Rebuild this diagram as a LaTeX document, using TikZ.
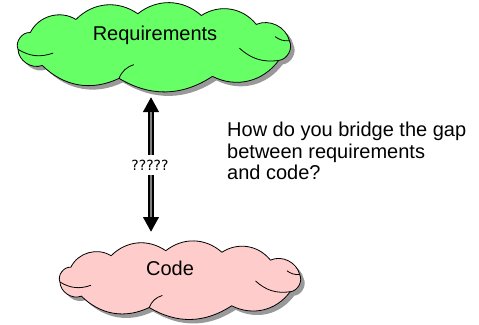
\documentclass[tikz,border=0pt]{standalone}
\usepackage{fontspec}
\setmainfont{Liberation Sans}
\newfontfamily\askfont{DejaVu Sans}
\usetikzlibrary{shadows,arrows.meta}

\definecolor{reqgreen}{RGB}{102,255,102}
\definecolor{codepink}{RGB}{255,204,204}

\tikzset{
  puff/.style={draw=black, line width=0.8pt,
    drop shadow={shadow xshift=4pt, shadow yshift=-4pt, fill=black!40, opacity=1}},
  puffedge/.style={draw=black, line width=0.8pt},
  % cloud outline on the unit ellipse, scaled by the scope's x and y
  pics/puffcloud/.style={code={
    \path[puff, fill=#1] (-25:1) to[bend right=55] (10:1) to[bend right=50] (42:1)
      to[bend right=42] (70:1) to[bend right=40] (97:1) to[bend right=40] (125:1)
      to[bend right=48] (155:1) to[bend right=60] (185:1) to[bend right=55] (215:1)
      to[bend right=35] (255:1) to[bend right=32] (295:1) to[bend right=40] (-25:1) -- cycle;
    \path[puffedge] (185:1) to[bend right=25] (-0.74,-0.2);
    \path[puffedge] (-25:1) to[bend left=25] (0.62,-0.05);
    \path[puffedge] (10:1) to[bend left=20] (0.88,0.3);
    \path[puffedge] (255:1) to[bend left=25] (-0.15,-0.55);
  }},
  bigtext/.style={font=\fontsize{20}{21.5}\selectfont, inner sep=0pt},
  bridgearrow/.style={line width=6pt,
    {Triangle[width=15pt,length=15pt]}-{Triangle[width=15pt,length=15pt]}},
  bridgecore/.style={line width=2.8pt, draw=gray, shorten <=15pt, shorten >=15pt},
}

\begin{document}
\begin{tikzpicture}[x=1pt,y=-1pt]
  \useasboundingbox (0,0) rectangle (479,324);

  % the two clouds
  \begin{scope}[shift={(154.5,46.5)}, x=137pt, y=33pt]
    \pic {puffcloud=reqgreen};
  \end{scope}
  \begin{scope}[shift={(180.5,279.5)}, x=121pt, y=29pt]
    \pic {puffcloud=codepink};
  \end{scope}
  \node[bigtext, anchor=base] (reqlabel) at (155,40) {Requirements};
  \node[bigtext, anchor=base] (codelabel) at (170,275) {Code};

  % double headed arrow between them
  \coordinate (top) at (151,97);
  \coordinate (bottom) at (151,232);
  \draw[bridgearrow] (bottom) -- (top);
  \draw[bridgecore] (bottom) -- (top);
  \node[fill=white, font=\askfont\fontsize{14}{14}\selectfont, inner xsep=1pt, inner ysep=5pt] (ask) at (150,165) {?????};

  \node[bigtext, anchor=north west, align=left] (question) at (227,122)
    {How do you bridge the gap\\between requirements\\and code?};
\end{tikzpicture}
\end{document}
